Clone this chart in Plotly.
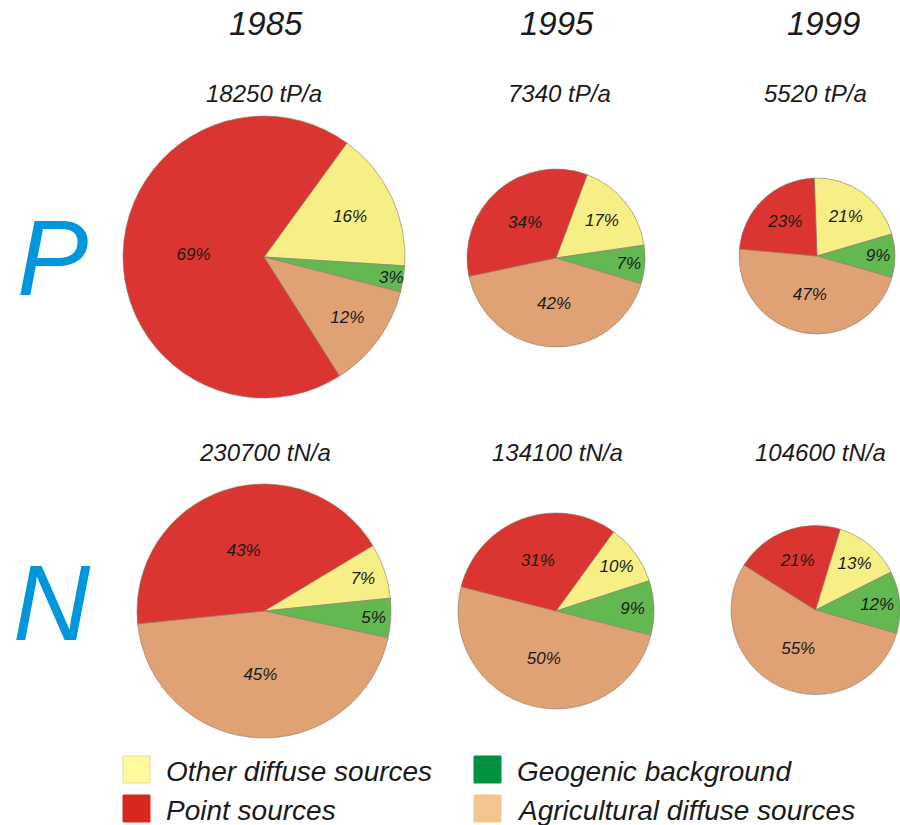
import plotly.graph_objects as go

W, H = 900, 825

# data
years = ["1985", "1995", "1999"]
loads_p = ["18250 tP/a", "7340 tP/a", "5520 tP/a"]
loads_n = ["230700 tN/a", "134100 tN/a", "104600 tN/a"]
categories = ["Other diffuse sources", "Geogenic background",
              "Agricultural diffuse sources", "Point sources"]
# shares in %, same order as categories
p_1985 = [16, 3, 12, 69]
p_1995 = [17, 7, 42, 34]
p_1999 = [21, 9, 47, 23]
n_1985 = [7, 5, 45, 43]
n_1995 = [10, 9, 50, 31]
n_1999 = [13, 12, 55, 21]

slice_colors = ["#f5ef85", "#63b852", "#e0a174", "#db3531"]
legend_colors = ["#fffa9c", "#009140", "#f5c590", "#da271e"]

# pie placement (pixels): centre x, centre y, radius, start angle
pies = [
    (p_1985, 264, 257, 141, 36),
    (p_1995, 556, 258, 89, 20.5),
    (p_1999, 817, 256, 78, -2),
    (n_1985, 264, 611, 127, 59),
    (n_1995, 556, 611, 98, 36),
    (n_1999, 817, 610, 86, 17),
]

font = "Liberation Sans, Arial, sans-serif"

fig = go.Figure()
for vals, cx, cy, r, rot in pies:
    x0 = max(0, (cx - r) / W)
    x1 = min(1, (cx + r) / W)
    fig.add_trace(go.Pie(
        values=vals,
        labels=categories,
        sort=False,
        direction="clockwise",
        rotation=rot,
        marker=dict(colors=slice_colors, line=dict(color="#8a7a6a", width=0.6)),
        texttemplate="%{value}%",
        textposition="inside",
        insidetextorientation="horizontal",
        insidetextfont=dict(family=font, size=17, color="#1a1a1a", style="italic"),
        domain=dict(x=[x0, x1], y=[1 - (cy + r) / H, 1 - (cy - r) / H]),
        hoverinfo="skip",
        showlegend=False,
    ))

ann = []
for x, y in zip([266, 557, 823], years):
    ann.append(dict(x=x / W, y=1 - 24 / H, text=y, font=dict(size=33, style="italic")))
for x, t in zip([264, 559, 815], loads_p):
    ann.append(dict(x=x / W, y=1 - 93 / H, text=t, font=dict(size=24, style="italic")))
for x, t in zip([265, 557, 820], loads_n):
    ann.append(dict(x=x / W, y=1 - 452 / H, text=t, font=dict(size=24, style="italic")))
for t, yy in [("P", 258), ("N", 603)]:
    ann.append(dict(x=52 / W, y=1 - yy / H, text=t,
                    font=dict(size=107, color="#0096dc", style="italic")))

shapes = []
legend_pos = [(123, 756), (474, 756), (474, 795), (123, 795)]
for name, col, (lx, ly) in zip(categories, legend_colors, legend_pos):
    shapes.append(dict(type="rect", xref="paper", yref="paper",
                       x0=lx / W, x1=(lx + 27) / W, y0=1 - (ly + 27) / H, y1=1 - ly / H,
                       fillcolor=col, line=dict(color="#e6dc9a" if col == "#fffa9c" else col, width=1)))
    ann.append(dict(x=(lx + 41) / W, y=1 - (ly + 15) / H, text=name, xanchor="left",
                    font=dict(size=28, style="italic")))

for a in ann:
    a.setdefault("xanchor", "center")
    a.update(xref="paper", yref="paper", yanchor="middle", showarrow=False)
    a["font"].setdefault("color", "#1a1a1a")
    a["font"]["family"] = font

fig.update_layout(
    width=W, height=H,
    margin=dict(l=0, r=0, t=0, b=0),
    paper_bgcolor="white",
    plot_bgcolor="white",
    annotations=ann,
    shapes=shapes,
    uniformtext=dict(minsize=17, mode="show"),
)

fig.write_html("out.html", config={"displayModeBar": False},
               post_script="document.body.style.margin='0';")
